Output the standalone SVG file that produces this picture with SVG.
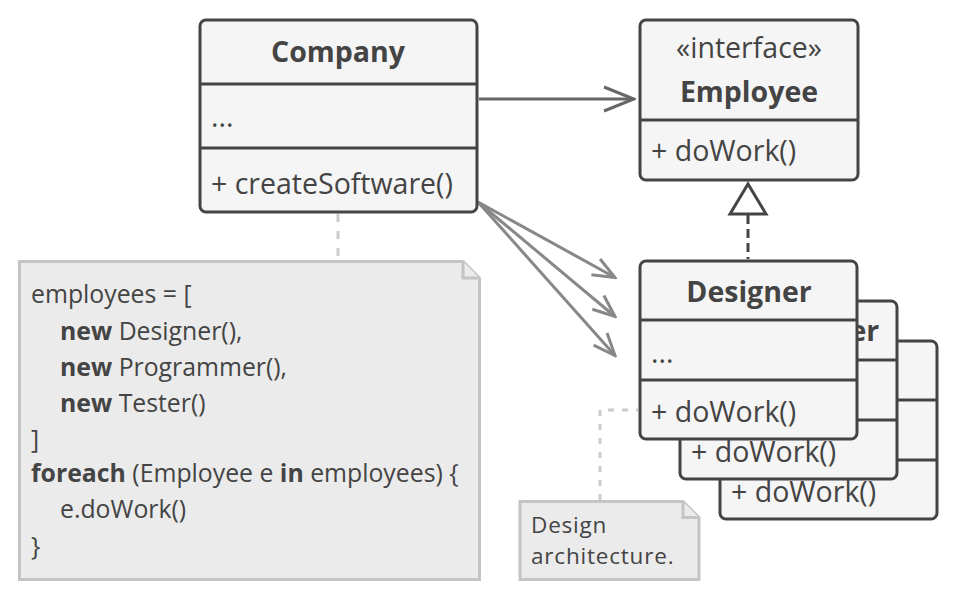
<svg xmlns="http://www.w3.org/2000/svg" width="960" height="600" viewBox="0 0 960 600">
  <style>
    .box { fill: #f5f5f5; stroke: #444; stroke-width: 3; }
    .sep { stroke: #444; stroke-width: 3; }
    .t { font-family: "Open Sans", "Noto Sans", sans-serif; font-size: 28.5px; fill: #444; }
    .b { font-weight: bold; }
    .c { text-anchor: middle; }
    .note { fill: #ebebeb; stroke: #c4c4c4; stroke-width: 3; stroke-linejoin: miter; }
    .nt { font-family: "Open Sans", "Noto Sans", sans-serif; font-size: 24.8px; fill: #444; }
    .nt2 { font-family: "Open Sans", "Noto Sans", sans-serif; font-size: 22.5px; letter-spacing: 0.8px; fill: #444; }
    .dep { stroke: #888; stroke-width: 3; fill: none; }
    .assoc { stroke: #666; stroke-width: 3; fill: none; }
    .ndash { stroke: #ccc; stroke-width: 3; fill: none; }
  </style>
  <defs>
    <marker id="arrBig" markerUnits="userSpaceOnUse" viewBox="0 0 34 28" markerWidth="34" markerHeight="28" refX="32" refY="14" orient="auto">
      <path d="M2,2 L32,14 L2,26" fill="none" stroke="#666" stroke-width="3"/>
    </marker>
    <marker id="arrSm" markerUnits="userSpaceOnUse" viewBox="0 0 26 22" markerWidth="26" markerHeight="22" refX="24" refY="11" orient="auto">
      <path d="M2,2 L24,11 L2,20" fill="none" stroke="#888" stroke-width="3"/>
    </marker>
  </defs>

  <g id="connectors">
    <line class="ndash" x1="338" y1="214" x2="338" y2="259" stroke-dasharray="8 9"/>
    <path class="ndash" d="M600,500 V410 H638" stroke-dasharray="6 8"/>
    <line class="assoc" x1="479" y1="99" x2="634" y2="99" marker-end="url(#arrBig)"/>
    <line class="dep" x1="478" y1="202" x2="615" y2="277.5" marker-end="url(#arrSm)"/>
    <line class="dep" x1="478" y1="202" x2="615" y2="316.5" marker-end="url(#arrSm)"/>
    <line class="dep" x1="478" y1="202" x2="615" y2="355.5" marker-end="url(#arrSm)"/>
    <line x1="748" y1="215" x2="748" y2="259" stroke="#444" stroke-width="3" stroke-dasharray="9 5"/>
    <polygon points="748,184 730,214 766,214" fill="#fff" stroke="#444" stroke-width="3" stroke-linejoin="miter"/>
  </g>

  <g id="company">
    <rect class="box" x="200" y="20" width="277" height="192" rx="6"/>
    <line class="sep" x1="200" y1="84" x2="477" y2="84"/>
    <line class="sep" x1="200" y1="148" x2="477" y2="148"/>
    <text class="t b c" x="338" y="62">Company</text>
    <text class="t" x="211" y="127">...</text>
    <text class="t" x="211" y="194">+ createSoftware()</text>
  </g>

  <g id="employee">
    <rect class="box" x="640" y="20" width="218" height="160" rx="6"/>
    <line class="sep" x1="640" y1="120" x2="858" y2="120"/>
    <text class="t c" x="749" y="58">«interface»</text>
    <text class="t b c" x="749" y="102">Employee</text>
    <text class="t" x="651" y="161">+ doWork()</text>
  </g>

  <g id="tester">
    <rect class="box" x="720" y="341" width="217" height="178" rx="6"/>
    <line class="sep" x1="720" y1="400" x2="937" y2="400"/>
    <line class="sep" x1="720" y1="460" x2="937" y2="460"/>
    <text class="t" x="731" y="502">+ doWork()</text>
  </g>

  <g id="programmer">
    <rect class="box" x="680" y="301" width="217" height="178" rx="6"/>
    <line class="sep" x1="680" y1="360" x2="897" y2="360"/>
    <line class="sep" x1="680" y1="420" x2="897" y2="420"/>
    <text class="t b c" x="789" y="341">Programmer</text>
    <text class="t" x="691" y="462">+ doWork()</text>
  </g>

  <g id="designer">
    <rect class="box" x="640" y="261" width="217" height="178" rx="6"/>
    <line class="sep" x1="640" y1="320" x2="857" y2="320"/>
    <line class="sep" x1="640" y1="380" x2="857" y2="380"/>
    <text class="t b c" x="749" y="302">Designer</text>
    <text class="t" x="651" y="363">...</text>
    <text class="t" x="651" y="422">+ doWork()</text>
  </g>

  <g id="note-code">
    <path class="note" d="M19.5,261.5 H463 L479.5,278 V579.5 H19.5 Z"/>
    <path class="note" d="M463,261.5 V278 H479.5"/>
    <text class="nt" x="31" y="303">employees = [</text>
    <text class="nt" x="60" y="340"><tspan font-weight="bold">new</tspan> Designer(),</text>
    <text class="nt" x="60" y="376"><tspan font-weight="bold">new</tspan> Programmer(),</text>
    <text class="nt" x="60" y="412"><tspan font-weight="bold">new</tspan> Tester()</text>
    <text class="nt" x="31" y="448">]</text>
    <text class="nt" x="31" y="482"><tspan font-weight="bold">foreach</tspan> (Employee e <tspan font-weight="bold">in</tspan> employees) {</text>
    <text class="nt" x="60" y="518">e.doWork()</text>
    <text class="nt" x="31" y="555">}</text>
  </g>

  <g id="note-design">
    <path class="note" d="M520,501.5 H683 L699,517.5 V579.5 H520 Z"/>
    <path class="note" d="M683,501.5 V517.5 H699"/>
    <text class="nt2" x="531" y="533">Design</text>
    <text class="nt2" x="531" y="564">architecture.</text>
  </g>
</svg>
